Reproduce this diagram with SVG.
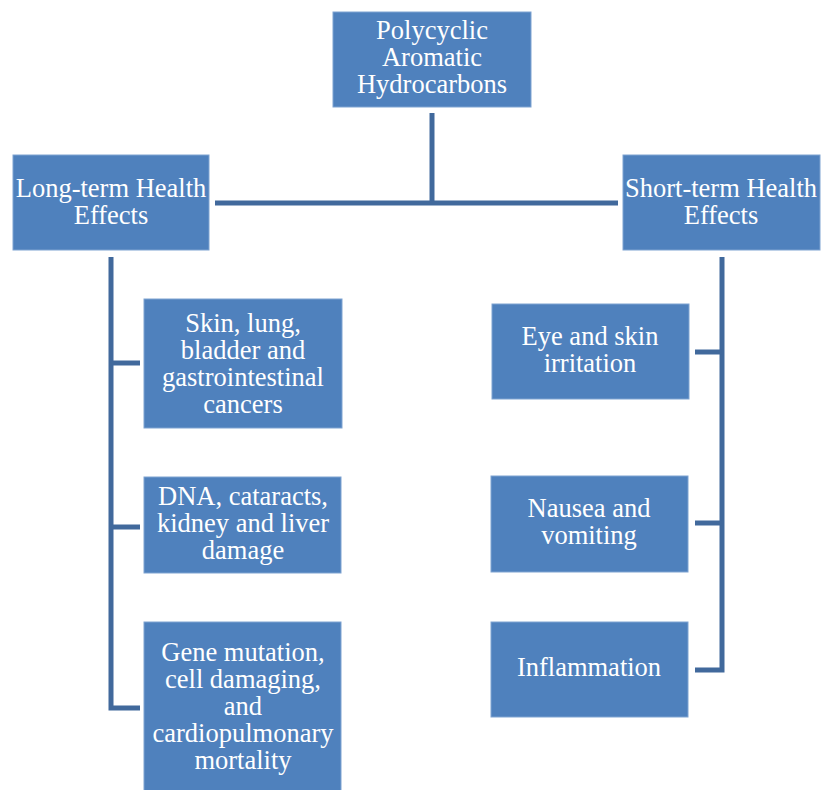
<svg xmlns="http://www.w3.org/2000/svg" width="822" height="790" viewBox="0 0 822 790">
<style>
.box{fill:#4F81BD;stroke:#7FA3D1;stroke-width:1}
.t{font-family:"Liberation Serif","Times New Roman",serif;font-size:26.5px;fill:#fff;text-anchor:middle}
.c{fill:none;stroke:#41699C;stroke-width:5;stroke-linecap:butt}
</style>
<rect width="822" height="790" fill="#fff"/>
<g id="connectors">
<line class="c" x1="432" y1="113" x2="432" y2="203"/>
<line class="c" x1="215" y1="203" x2="618" y2="203"/>
<polyline class="c" points="111,257 111,708 140,708"/>
<line class="c" x1="111" y1="363" x2="140" y2="363"/>
<line class="c" x1="111" y1="527" x2="140" y2="527"/>
<polyline class="c" points="722,257 722,670 695,670"/>
<line class="c" x1="722" y1="352" x2="695" y2="352"/>
<line class="c" x1="722" y1="523" x2="695" y2="523"/>
</g>
<g id="pah">
<rect class="box" x="333" y="12" width="198" height="95"/>
<text class="t" x="432" y="39">Polycyclic</text>
<text class="t" x="432" y="66">Aromatic</text>
<text class="t" x="432" y="93">Hydrocarbons</text>
</g>
<g id="longterm">
<rect class="box" x="13" y="155" width="196" height="95"/>
<text class="t" x="111" y="197">Long-term Health</text>
<text class="t" x="111" y="224">Effects</text>
</g>
<g id="shortterm">
<rect class="box" x="623" y="155" width="197" height="95"/>
<text class="t" x="721" y="197">Short-term Health</text>
<text class="t" x="721" y="224">Effects</text>
</g>
<g id="cancers">
<rect class="box" x="144" y="299" width="198" height="129"/>
<text class="t" x="243" y="332">Skin, lung,</text>
<text class="t" x="243" y="359">bladder and</text>
<text class="t" x="243" y="386">gastrointestinal</text>
<text class="t" x="243" y="413">cancers</text>
</g>
<g id="dna">
<rect class="box" x="144" y="477" width="197" height="96"/>
<text class="t" x="243" y="505">DNA, cataracts,</text>
<text class="t" x="243" y="532">kidney and liver</text>
<text class="t" x="243" y="559">damage</text>
</g>
<g id="gene">
<rect class="box" x="144" y="622" width="197" height="170"/>
<text class="t" x="243" y="661">Gene mutation,</text>
<text class="t" x="243" y="688">cell damaging,</text>
<text class="t" x="243" y="715">and</text>
<text class="t" x="243" y="742">cardiopulmonary</text>
<text class="t" x="243" y="769">mortality</text>
</g>
<g id="eye">
<rect class="box" x="492" y="304" width="197" height="95"/>
<text class="t" x="590" y="345">Eye and skin</text>
<text class="t" x="590" y="372">irritation</text>
</g>
<g id="nausea">
<rect class="box" x="491" y="476" width="197" height="96"/>
<text class="t" x="589" y="517">Nausea and</text>
<text class="t" x="589" y="544">vomiting</text>
</g>
<g id="inflammation">
<rect class="box" x="491" y="622" width="197" height="95"/>
<text class="t" x="589" y="676">Inflammation</text>
</g>
</svg>
